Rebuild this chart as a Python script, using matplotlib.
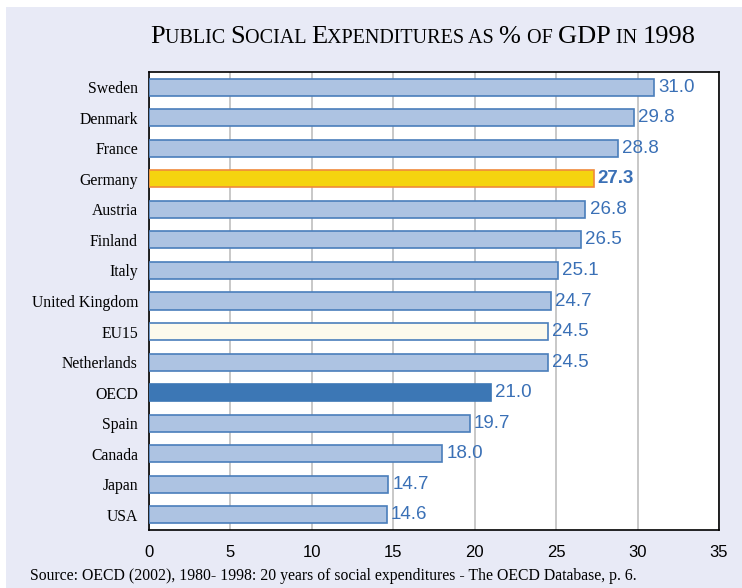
import numpy as np
import matplotlib
matplotlib.use("Agg")
import matplotlib.pyplot as plt
from matplotlib.patches import Rectangle
from matplotlib.offsetbox import TextArea, HPacker, AnnotationBbox

countries = ["Sweden", "Denmark", "France", "Germany", "Austria", "Finland", "Italy",
             "United Kingdom", "EU15", "Netherlands", "OECD", "Spain", "Canada", "Japan", "USA"]
values = [31.0, 29.8, 28.8, 27.3, 26.8, 26.5, 25.1, 24.7, 24.5, 24.5, 21.0, 19.7, 18.0, 14.7, 14.6]
xticks = [0, 5, 10, 15, 20, 25, 30, 35]
source = "Source: OECD (2002), 1980- 1998: 20 years of social expenditures - The OECD Database, p. 6."

BG = "#e8eaf6"
FILL = "#adc3e2"; EDGE = "#4a7ebb"
special = {"Germany": ("#f5d40f", "#f08a3c"),
           "EU15": ("#fcf9ec", "#4a7ebb"),
           "OECD": ("#3c77b5", "#3c77b5")}
LBL = "#3a70b6"
SERIF = ["Liberation Serif", "DejaVu Serif"]
SANS = ["Liberation Sans", "DejaVu Sans"]

fig = plt.figure(figsize=(7.42, 5.88), dpi=100, facecolor="white")
fig.patches.append(Rectangle((6/742, 0), 1, 1 - 7/588, transform=fig.transFigure,
                             facecolor=BG, edgecolor="none", zorder=-10))
ax = fig.add_axes([149/742, 1 - 530/588, 570/742, 458/588])
ax.set_facecolor("white")

y = np.arange(len(countries))
fills = [special.get(c, (FILL, EDGE))[0] for c in countries]
edges = [special.get(c, (FILL, EDGE))[1] for c in countries]
ax.barh(y, values, height=0.56, color=fills, edgecolor=edges, linewidth=1.2, zorder=3)
for yi, c, v in zip(y, countries, values):
    ax.text(v + 0.25, yi, f"{v:.1f}", va="center", ha="left", color=LBL, fontsize=13.5,
            family=SANS, fontweight="bold" if c == "Germany" else "normal", zorder=4)

ax.set_xlim(0, 35)
ax.set_ylim(len(countries) - 0.5, -0.5)
ax.set_xticks(xticks)
ax.set_xticklabels([str(t) for t in xticks], family=SANS, fontsize=12)
ax.set_yticks(y)
ax.set_yticklabels(countries, family=SERIF, fontsize=11.3)
ax.tick_params(axis="both", length=0)
ax.tick_params(axis="x", pad=11)
ax.tick_params(axis="y", pad=8)
ax.grid(axis="x", color="#c4c4c4", lw=1.3, zorder=0)
ax.set_axisbelow(True)
for s in ax.spines.values():
    s.set_color("black"); s.set_linewidth(1.2)

# small-caps title
B, S = 19, 14.5
parts = [("P", B), ("UBLIC ", S), ("S", B), ("OCIAL ", S), ("E", B), ("XPENDITURES AS ", S),
         ("% ", B), ("OF ", S), ("GDP ", B), ("IN ", S), ("1998", B)]
areas = [TextArea(t, textprops=dict(fontsize=sz, family=SERIF, color="black")) for t, sz in parts]
pack = HPacker(children=areas, align="baseline", pad=0, sep=0)
ab = AnnotationBbox(pack, (423/742, 1 - 37/588), xycoords="figure fraction",
                    box_alignment=(0.5, 0.5), frameon=False)
fig.add_artist(ab)

fig.text(30/742, 1 - 576/588, source, family=SERIF, fontsize=11.3, va="center", ha="left")

fig.savefig("out.png", dpi=100, facecolor=fig.get_facecolor())
